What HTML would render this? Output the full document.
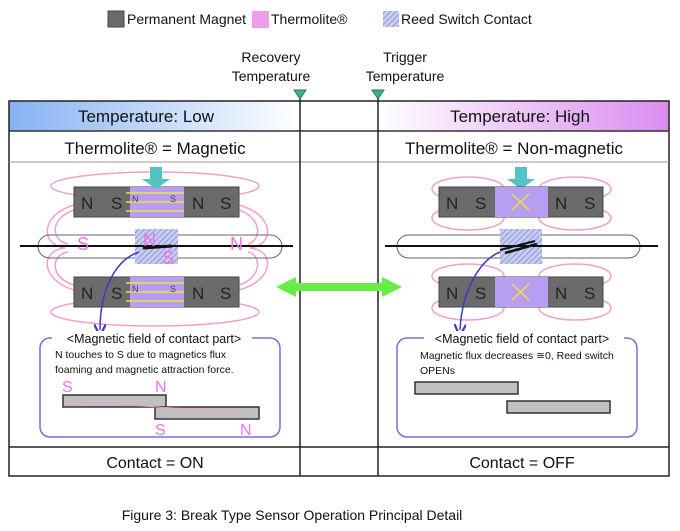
<!DOCTYPE html>
<html><head><meta charset="utf-8"><style>
body{margin:0;background:#fff}
svg{display:block}
text{font-family:"Liberation Sans",sans-serif;fill:#111}
</style></head><body>
<svg width="680" height="531" viewBox="0 0 680 531" xmlns="http://www.w3.org/2000/svg">
<defs>
<linearGradient id="gl" x1="0" x2="1"><stop offset="0" stop-color="#86b2f2"/><stop offset="1" stop-color="#fff"/></linearGradient>
<linearGradient id="gr" x1="0" x2="1"><stop offset="0" stop-color="#fff"/><stop offset="1" stop-color="#da8cf0"/></linearGradient>
<pattern id="hatch" width="4" height="4" patternUnits="userSpaceOnUse" patternTransform="rotate(45)">
<rect width="4" height="4" fill="#c8cdf0"/><line x1="0" y1="0" x2="0" y2="4" stroke="#6a74d0" stroke-width="1.2"/></pattern>
<marker id="ah" markerWidth="8" markerHeight="8" refX="4" refY="4" orient="auto"><path d="M0,0 L8,4 L0,8" fill="none" stroke="#3a3ac8" stroke-width="1.5"/></marker>
</defs>
<!-- legend -->
<rect x="108" y="11" width="16" height="16" fill="#6b6b6b" stroke="#444"/>
<text x="127" y="24" font-size="14">Permanent Magnet</text>
<rect x="252" y="11" width="17" height="17" fill="#ee9cee"/>
<text x="271" y="24" font-size="14">Thermolite®</text>
<rect x="383" y="11" width="16" height="16" fill="url(#hatch)"/>
<text x="401" y="24" font-size="14">Reed Switch Contact</text>
<text x="271" y="62" font-size="14" text-anchor="middle">Recovery</text>
<text x="271" y="81" font-size="14" text-anchor="middle">Temperature</text>
<text x="405" y="62" font-size="14" text-anchor="middle">Trigger</text>
<text x="405" y="81" font-size="14" text-anchor="middle">Temperature</text>
<!-- headers -->
<rect x="9" y="101" width="291" height="30" fill="url(#gl)"/>
<rect x="378" y="101" width="291" height="30" fill="url(#gr)"/>
<rect x="9" y="101" width="660" height="375" fill="none" stroke="#222" stroke-width="1.5"/>
<line x1="9" y1="131" x2="669" y2="131" stroke="#333" stroke-width="1.5"/>
<line x1="9" y1="162" x2="669" y2="162" stroke="#999"/>
<line x1="9" y1="447" x2="669" y2="447" stroke="#222" stroke-width="1.5"/>
<line x1="300" y1="93" x2="300" y2="476" stroke="#222" stroke-width="1.5"/>
<line x1="378" y1="93" x2="378" y2="476" stroke="#222" stroke-width="1.5"/>
<path d="M294,90 L306,90 L300,99Z" fill="#3fae86" stroke="#2a7a5a"/>
<path d="M372,90 L384,90 L378,99Z" fill="#3fae86" stroke="#2a7a5a"/>
<text x="146" y="122" font-size="17" text-anchor="middle">Temperature: Low</text>
<text x="520" y="122" font-size="17" text-anchor="middle">Temperature: High</text>
<text x="155" y="154" font-size="17" text-anchor="middle">Thermolite® = Magnetic</text>
<text x="514" y="154" font-size="17" text-anchor="middle">Thermolite® = Non-magnetic</text>
<text x="155" y="468" font-size="16" text-anchor="middle">Contact = ON</text>
<text x="522" y="468" font-size="16" text-anchor="middle">Contact = OFF</text>
<!-- left pink field loops -->
<g fill="none" stroke="#f0a0d0" stroke-width="1.5">
<ellipse cx="155" cy="186" rx="104" ry="14"/>
<ellipse cx="155" cy="312" rx="104" ry="14"/>
<path d="M74,205 C40,215 40,245 65,248 M74,210 C50,218 50,240 68,244"/>
<path d="M239,205 C275,215 275,245 250,248 M239,210 C262,218 262,240 248,244"/>
<path d="M74,290 C40,280 40,250 65,248 M74,285 C50,278 50,255 68,252"/>
<path d="M239,290 C275,280 275,250 250,248 M239,285 C262,278 262,255 248,252"/>
</g>
<!-- right pink loops -->
<g fill="none" stroke="#f0a0d0" stroke-width="1.5">
<ellipse cx="468" cy="189" rx="36" ry="12"/><ellipse cx="575" cy="189" rx="36" ry="12"/>
<ellipse cx="468" cy="218" rx="36" ry="12"/><ellipse cx="575" cy="218" rx="36" ry="12"/>
<ellipse cx="468" cy="276" rx="36" ry="12"/><ellipse cx="575" cy="276" rx="36" ry="12"/>
<ellipse cx="468" cy="308" rx="36" ry="12"/><ellipse cx="575" cy="308" rx="36" ry="12"/>
</g>
<!-- left magnets -->
<g>
<rect x="74" y="187" width="165" height="30" fill="#6b6b6b" stroke="#444"/>
<rect x="130" y="187" width="54" height="30" fill="#b89ef0"/>
<rect x="74" y="277" width="165" height="30" fill="#6b6b6b" stroke="#444"/>
<rect x="130" y="277" width="54" height="30" fill="#b89ef0"/>
<g stroke="#f0e040" stroke-width="1.5">
<line x1="126" y1="193" x2="184" y2="193"/><line x1="126" y1="202" x2="184" y2="202"/><line x1="126" y1="211" x2="184" y2="211"/>
<line x1="126" y1="283" x2="184" y2="283"/><line x1="126" y1="292" x2="184" y2="292"/><line x1="126" y1="301" x2="184" y2="301"/>
</g>
<g font-size="17" fill="#222"><text x="81" y="209" style="fill:#222">N</text><text x="111" y="209" style="fill:#222">S</text><text x="192" y="209" style="fill:#222">N</text><text x="220" y="209" style="fill:#222">S</text>
<text x="81" y="299" style="fill:#222">N</text><text x="111" y="299" style="fill:#222">S</text><text x="192" y="299" style="fill:#222">N</text><text x="220" y="299" style="fill:#222">S</text></g>
<text x="132" y="202" font-size="9" style="fill:#444">N</text><text x="170" y="202" font-size="9" style="fill:#444">S</text>
<text x="132" y="292" font-size="9" style="fill:#444">N</text><text x="170" y="292" font-size="9" style="fill:#444">S</text>
</g>
<!-- left tube -->
<rect x="38" y="235" width="244" height="23" rx="11.5" fill="none" stroke="#666"/>
<rect x="135" y="229" width="43" height="35" fill="url(#hatch)"/>
<line x1="20" y1="246" x2="293" y2="246" stroke="#111" stroke-width="2"/>
<line x1="143" y1="248" x2="172" y2="246" stroke="#111" stroke-width="3"/>
<g font-size="18" style="fill:#f070f0"><text x="77" y="250" style="fill:#f070f0">S</text><text x="143" y="246" style="fill:#f070f0">N</text><text x="162" y="264" style="fill:#f070f0">S</text><text x="230" y="250" style="fill:#f070f0">N</text></g>
<path d="M139,252 C115,260 100,290 100,330" fill="none" stroke="#3a3ac8" stroke-width="1.5" marker-end="url(#ah)"/>
<!-- cyan arrows -->
<path d="M150,167 h12 v12 h8 l-14,10 l-14,-10 h8z" fill="#52c4c4"/>
<path d="M515,167 h12 v12 h8 l-14,10 l-14,-10 h8z" fill="#52c4c4"/>
<!-- right magnets -->
<rect x="439" y="187" width="164" height="30" fill="#6b6b6b" stroke="#444"/>
<rect x="495" y="187" width="53" height="30" fill="#b89ef0"/>
<rect x="439" y="277" width="164" height="30" fill="#6b6b6b" stroke="#444"/>
<rect x="495" y="277" width="53" height="30" fill="#b89ef0"/>
<g stroke="#f0e040" stroke-width="1.5"><path d="M512,194 l17,16 M529,194 l-17,16 M512,284 l17,16 M529,284 l-17,16"/></g>
<g font-size="17"><text x="446" y="209" style="fill:#222">N</text><text x="475" y="209" style="fill:#222">S</text><text x="555" y="209" style="fill:#222">N</text><text x="584" y="209" style="fill:#222">S</text>
<text x="446" y="299" style="fill:#222">N</text><text x="475" y="299" style="fill:#222">S</text><text x="555" y="299" style="fill:#222">N</text><text x="584" y="299" style="fill:#222">S</text></g>
<rect x="397" y="235" width="243" height="23" rx="11.5" fill="none" stroke="#666"/>
<rect x="500" y="229" width="42" height="35" fill="url(#hatch)"/>
<line x1="385" y1="246" x2="658" y2="246" stroke="#111" stroke-width="2"/>
<line x1="505" y1="253" x2="537" y2="244" stroke="#111" stroke-width="2.5"/>
<line x1="500" y1="250" x2="535" y2="241" stroke="#111" stroke-width="2"/>
<path d="M500,252 C480,260 462,290 460,330" fill="none" stroke="#3a3ac8" stroke-width="1.5" marker-end="url(#ah)"/>
<!-- green double arrow -->
<path d="M276,287 L296,277 V283 H382 V277 L402,287 L382,297 V291 H296 V297Z" fill="#66ee44"/>
<!-- info boxes -->
<rect x="40" y="338" width="240" height="99" rx="10" fill="none" stroke="#7070e0" stroke-width="1.5"/>
<rect x="397" y="338" width="240" height="99" rx="10" fill="none" stroke="#7070e0" stroke-width="1.5"/>
<rect x="52" y="331" width="200" height="14" fill="#fff"/>
<rect x="424" y="331" width="200" height="14" fill="#fff"/>
<text x="154" y="343" font-size="12.5" text-anchor="middle">&lt;Magnetic field of contact part&gt;</text>
<text x="522" y="343" font-size="12.5" text-anchor="middle">&lt;Magnetic field of contact part&gt;</text>
<text x="55" y="358" font-size="10.5">N touches to S due to magnetics flux</text>
<text x="55" y="373" font-size="10.5">foaming and magnetic attraction force.</text>
<text x="420" y="359" font-size="10.5">Magnetic flux decreases ≅0, Reed switch</text>
<text x="420" y="374" font-size="10.5">OPENs</text>
<rect x="63" y="395" width="103" height="12" fill="#c0c0c0" stroke="#333" stroke-width="1.5"/>
<rect x="155" y="407" width="104" height="12" fill="#c0c0c0" stroke="#333" stroke-width="1.5"/>
<line x1="66" y1="401" x2="250" y2="413" stroke="#f0a0d0" stroke-width="1"/>
<g font-size="16"><text x="62" y="392" style="fill:#f070f0">S</text><text x="155" y="392" style="fill:#f070f0">N</text><text x="155" y="435" style="fill:#f070f0">S</text><text x="240" y="435" style="fill:#f070f0">N</text></g>
<rect x="415" y="382" width="103" height="12" fill="#c0c0c0" stroke="#333" stroke-width="1.5"/>
<rect x="507" y="401" width="103" height="12" fill="#c0c0c0" stroke="#333" stroke-width="1.5"/>
<text x="292" y="520" font-size="14" text-anchor="middle">Figure 3: Break Type Sensor Operation Principal Detail</text>
</svg>
</body></html>
